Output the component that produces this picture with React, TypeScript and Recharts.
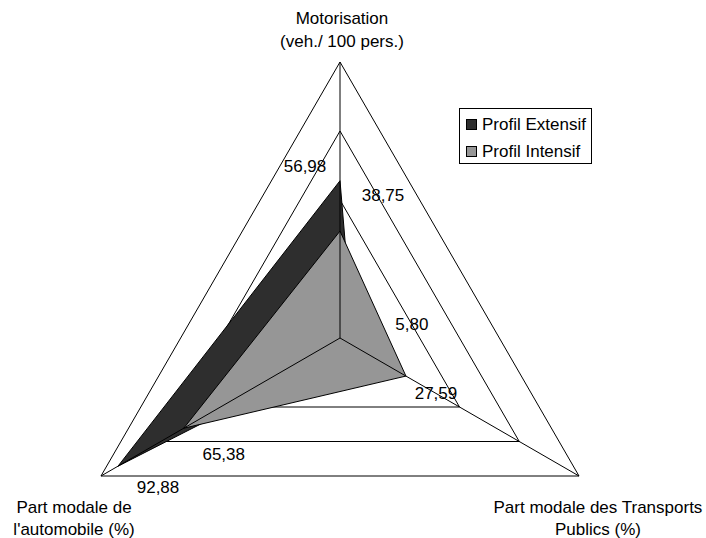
import React from 'react';
import { RadarChart, Radar, PolarGrid, PolarAngleAxis, PolarRadiusAxis, Legend, LabelList } from 'recharts';

const axes = ['Motorisation (veh./ 100 pers.)', 'Part modale des Transports Publics (%)', "Part modale de l'automobile (%)"];
const axisLines: string[][] = [
  ['Motorisation', '(veh./ 100 pers.)'],
  ['Part modale des Transports', 'Publics (%)'],
  ['Part modale de', "l'automobile (%)"],
];
const extensif = [56.98, 5.8, 92.88];
const intensif = [38.75, 27.59, 65.38];
const seriesNames = ['Profil Extensif', 'Profil Intensif'];

const data = axes.map((a, i) => ({ axis: a, ext: extensif[i], int: intensif[i] }));

const FONT = '"Liberation Sans", Arial, sans-serif';
const fmt = (v: number) => v.toFixed(2).replace('.', ',');

// label offsets (styling) relative to the data point
const extOff = [[-35, -14], [58, -22], [40, 21]];
const intOff = [[43, -36], [30, 17], [40, 26]];
// axis label line offsets relative to the tick anchor
const tickOff = [
  { dx: 2, dys: [-30, -7] },
  { dx: 12, dys: [33, 55] },
  { dx: -20, dys: [33, 55] },
];

const makeLabel = (offs: number[][]) => (props: any) => {
  const { x, y, value, index } = props;
  const o = offs[index] || [0, 0];
  return (
    <text x={x + o[0]} y={y + o[1]} textAnchor="middle" dominantBaseline="central" fontSize={17} fontFamily={FONT} fill="#000">
      {fmt(Number(value))}
    </text>
  );
};

const AxisTick = (props: any) => {
  const { x, y, index } = props;
  const t = tickOff[index];
  const lines = axisLines[index];
  return (
    <g>
      {lines.map((l, i) => (
        <text key={i} x={x + t.dx} y={y + t.dys[i]} textAnchor="middle" fontSize={17} fontFamily={FONT} fill="#000">
          {l}
        </text>
      ))}
    </g>
  );
};

const colors = ['#2e2e2e', '#969696'];

const LegendContent = () => (
  <div style={{ border: '1px solid #000', background: '#fff', padding: '0 4px 0 6px', fontFamily: FONT, fontSize: 17, width: 121, height: 54, boxSizing: 'content-box', whiteSpace: 'nowrap' }}>
    {seriesNames.map((n, i) => (
      <div key={n} style={{ display: 'flex', alignItems: 'center', height: 27, marginTop: i === 0 ? 2 : 0 }}>
        <span style={{ display: 'inline-block', width: 9, height: 9, background: colors[i], border: '1px solid #000', marginRight: 5, flex: 'none' }} />
        <span>{n}</span>
      </div>
    ))}
  </div>
);

export default function App() {
  return (
    <div style={{ position: 'absolute', left: 0, top: 0, width: 706, height: 538, background: '#fff' }}>
      <RadarChart width={706} height={538} data={data} cx={340} cy={338} outerRadius={276} margin={{ top: 0, right: 0, bottom: 0, left: 0 }}>
        <PolarGrid gridType="polygon" stroke="#000" strokeWidth={1} radialLines={false} />
        <PolarRadiusAxis domain={[0, 100]} tickCount={5} tick={false} axisLine={false} />
        <PolarAngleAxis dataKey="axis" tick={<AxisTick />} tickLine={false} axisLine={false} />
        <Radar name={seriesNames[0]} dataKey="ext" fill={colors[0]} fillOpacity={1} stroke="#000" strokeWidth={1} isAnimationActive={false}>
          <LabelList dataKey="ext" content={makeLabel(extOff)} />
        </Radar>
        <Radar name={seriesNames[1]} dataKey="int" fill={colors[1]} fillOpacity={1} stroke="#000" strokeWidth={1} isAnimationActive={false}>
          <LabelList dataKey="int" content={makeLabel(intOff)} />
        </Radar>
        <PolarGrid gridType="polygon" stroke="#000" strokeWidth={1} polarRadius={[]} radialLines zIndex={2000} />
        <Legend content={<LegendContent />} wrapperStyle={{ position: 'absolute', left: 459, top: 108, width: 'auto' }} />
      </RadarChart>
    </div>
  );
}
